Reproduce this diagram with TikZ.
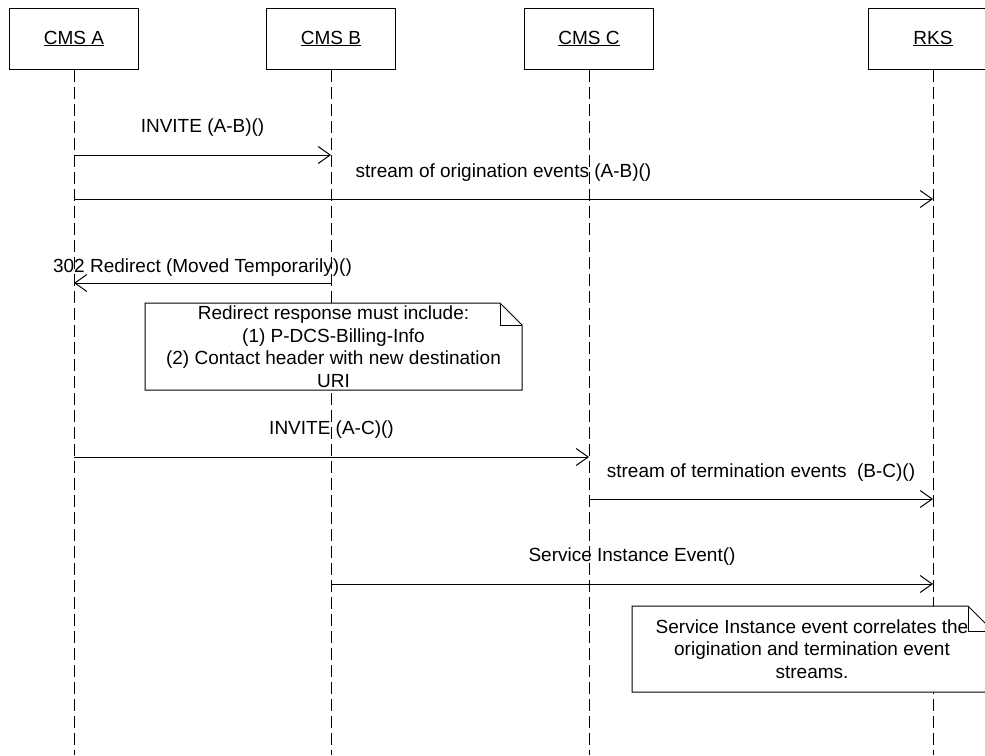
\documentclass[tikz,border=0pt]{standalone}
\usepackage{fontspec}
\setmainfont{Liberation Sans}
\usetikzlibrary{arrows.meta}
\usetikzlibrary{positioning}
\tikzset{obj/.style = {draw, fill = white, minimum width = 129, minimum height = 61, inner sep = 0},
         lifeline/.style = {dash pattern = on 12pt off 5pt},
         msg/.style = {-{Straight Barb[length = 12pt, width = 17pt]}},
         notetext/.style = {align = center, inner sep = 0}}
\newcommand{\notebox}[5]{% left, top, right, bottom, fold
  \draw [fill = white] (#1, #2) -- (#3 - #5, #2) -- (#3, #2 + #5) -- (#3, #4) -- (#1, #4) -- cycle;
  \draw (#3 - #5, #2) -- (#3 - #5, #2 + #5) -- (#3, #2 + #5);}

\begin{document}
\begin{tikzpicture}[x = 1pt, y = -1pt, line width = 1pt,
                    every node/.style = {font = \fontsize{19}{22.5}\selectfont}]
  \useasboundingbox (0, 0) rectangle (985, 755);
  \clip (0, 0) rectangle (985, 755);

  \node [obj] (A) at (74, 38.5) {\underline{CMS A}};
  \node [obj] (B) at (331, 38.5) {\underline{CMS B}};
  \node [obj] (C) at (589, 38.5) {\underline{CMS C}};
  \node [obj] (R) at (933, 38.5) {\underline{RKS}};

  \coordinate (bottom) at (0, 755);
  \foreach \o in {A, B, C, R}
    \draw [lifeline] (\o.south) -- (\o |- bottom);

  % messages
  \coordinate (m1) at (0, 155);
  \coordinate (m2) at (0, 199);
  \coordinate (m3) at (0, 283);
  \coordinate (m4) at (0, 457);
  \coordinate (m5) at (0, 499);
  \coordinate (m6) at (0, 584);
  \draw [msg] (A |- m1) -- node [yshift = 27pt] {INVITE (A-B)()} (B |- m1);
  \draw [msg] (A |- m2) -- node [yshift = 26pt] {stream of origination events (A-B)()} (R |- m2);
  \draw [msg] (B |- m3) -- node [yshift = 15pt] {302 Redirect (Moved Temporarily)()} (A |- m3);
  \draw [msg] (A |- m4) -- node [yshift = 27pt] {INVITE (A-C)()} (C |- m4);
  \draw [msg] (C |- m5) -- node [yshift = 26pt] {stream of termination events\ \ (B-C)()} (R |- m5);
  \draw [msg] (B |- m6) -- node [yshift = 27pt] {Service Instance Event()} (R |- m6);

  % notes
  \notebox{145}{303}{522}{390}{22}
  \node [notetext] (n1) at (333.5, 346.5) {Redirect response must include:\\(1) P-DCS-Billing-Info\\(2) Contact header with new destination\\URI};
  \notebox{632}{606}{993}{692}{25}
  \node [notetext] (n2) at (812, 649) {Service Instance event correlates the\\origination and termination event\\streams.};
\end{tikzpicture}
\end{document}
